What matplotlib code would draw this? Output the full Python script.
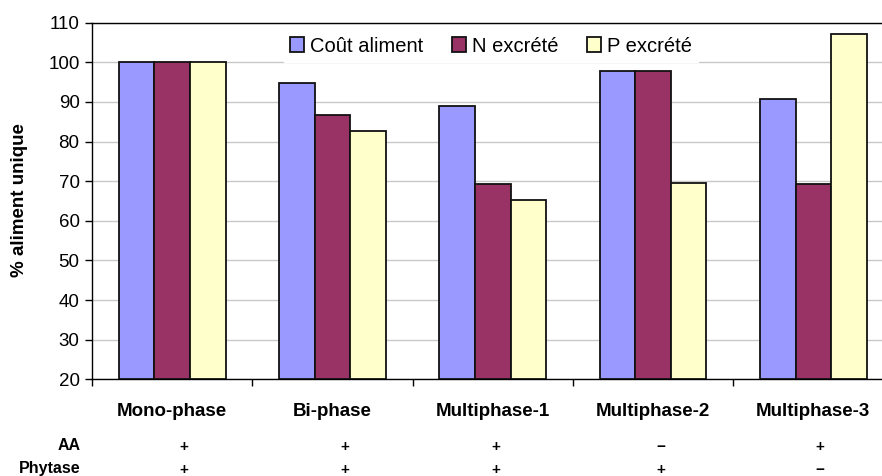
import matplotlib
matplotlib.use("Agg")
import matplotlib.pyplot as plt
import numpy as np

categories = ["Mono-phase", "Bi-phase", "Multiphase-1", "Multiphase-2", "Multiphase-3"]
series_names = ["Coût aliment", "N excrété", "P excrété"]
cout = [100, 94.7, 89.0, 97.9, 90.7]
n_excrete = [100, 86.6, 69.3, 97.9, 69.3]
p_excrete = [100, 82.6, 65.3, 69.6, 107.2]
aa_row = ["+", "+", "+", "\u2212", "+"]
phytase_row = ["+", "+", "+", "+", "\u2212"]
sign_offsets = [0.07, 0.08, 0.02, 0.05, 0.04]
colors = ["#9999FF", "#993366", "#FFFFCC"]

plt.rcParams['font.family'] = ['Liberation Sans', 'DejaVu Sans']

fig = plt.figure(figsize=(8.82, 4.76), dpi=100)
ax = fig.add_axes([92/882, 1-379.3/476, (893.5-92)/882, (379.3-22.7)/476])

x = np.arange(len(categories))
w = 0.222
for i, (vals, name, c) in enumerate(zip([cout, n_excrete, p_excrete], series_names, colors)):
    ax.bar(x + (i-1)*w, np.array(vals) - 20, bottom=20, width=w, color=c,
           edgecolor="#111111", linewidth=1.3, label=name, zorder=3)

ax.set_ylim(20, 110)
ax.set_xlim(-0.5, len(categories)-0.5)
ax.set_yticks(np.arange(20, 111, 10))
ax.tick_params(axis='y', labelsize=13.5, length=5, width=1, direction='out', pad=4)
ax.set_xticks(np.arange(-0.5, len(categories)-0.4, 1))
ax.set_xticklabels([])
ax.tick_params(axis='x', length=5, width=1, direction='out')
ax.yaxis.grid(True, color="#c8c8c8", linewidth=1, zorder=0)
ax.set_axisbelow(True)
for s in ax.spines.values():
    s.set_color("black")
    s.set_linewidth(1)

for i, cat in enumerate(categories):
    ax.text(i, -0.09, cat, transform=ax.get_xaxis_transform(), ha='center', va='center',
            fontsize=13.5, fontweight='bold')
    ax.text(i + sign_offsets[i], -0.19, aa_row[i], transform=ax.get_xaxis_transform(),
            ha='center', va='center', fontsize=11, fontweight='bold')
    ax.text(i + sign_offsets[i], -0.255, phytase_row[i], transform=ax.get_xaxis_transform(),
            ha='center', va='center', fontsize=11, fontweight='bold')

fig.text(81/882, 1-446/476, "AA", ha='right', va='center', fontsize=11.5, fontweight='bold')
fig.text(81/882, 1-469/476, "Phytase", ha='right', va='center', fontsize=11.5, fontweight='bold')

fig.text(20/882, 1-200/476, "% aliment unique", rotation=90, ha='center', va='center',
         fontsize=13.5, fontweight='bold')

leg = fig.legend(loc='center', bbox_to_anchor=(491/882, 1-46/476), ncol=3, frameon=True,
                 fontsize=14.5, handlelength=0.7, handleheight=0.7, handletextpad=0.3,
                 columnspacing=1.4, borderpad=0.3, fancybox=False)
leg.get_frame().set_facecolor("white")
leg.get_frame().set_edgecolor("white")
leg.get_frame().set_alpha(1)

fig.savefig("out.png", dpi=100)
